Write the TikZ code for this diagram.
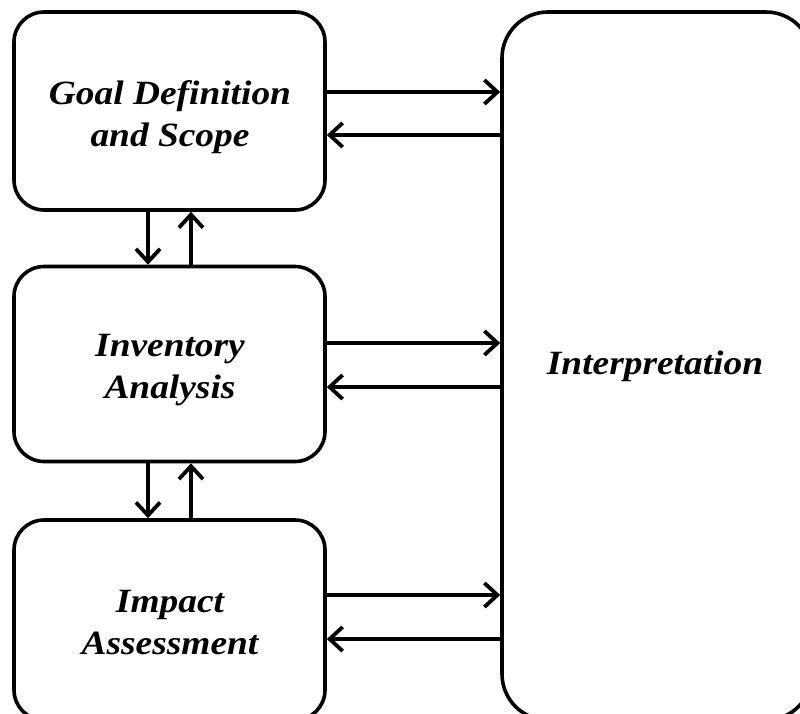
\documentclass[tikz,border=0pt]{standalone}
\usepackage{fontspec}
\setmainfont{Liberation Serif}[FakeStretch=1.1]
\usetikzlibrary{arrows.meta}
\begin{document}
\begin{tikzpicture}[x=1pt,y=-1pt,
  stage/.style={draw, line width=3.6pt, rounded corners=30pt, inner sep=0pt,
    minimum width=311pt},
  stagetext/.style={font=\fontsize{34}{42}\selectfont\bfseries\itshape,
    align=center, inner sep=0pt},
  flow/.style={line width=3.8pt, -{Straight Barb[length=13pt,width=24pt]}}]
\clip (0,0) rectangle (800,713);
\useasboundingbox (0,0) rectangle (800,713);

% left column of stages
\node[stage, minimum height=198pt] (goal) at (169.5,111) {};
\node[stage, minimum height=195pt] (inv) at (169.5,364) {};
\node[stage, minimum height=200pt] (imp) at (169.5,620) {};
% interpretation column
\node[draw, line width=3.6pt, rounded corners=46pt, inner sep=0pt,
  minimum width=310pt, minimum height=708pt] (interp) at (657,366) {};

% labels
\node[stagetext] (goaltxt) at (170,117) {Goal Definition\\and Scope};
\node[stagetext] (invtxt) at (170,370) {Inventory\\Analysis};
\node[stagetext] (imptxt) at (170,623) {Impact\\Assessment};
\node[stagetext] (interptxt) at (655,366) {Interpretation};

% exchanges with interpretation
\foreach \s/\a/\b in {goal/92/135, inv/343/387, imp/595/639}{
  \draw[flow] (\s.east |- 0,\a) -- (interp.west |- 0,\a);
  \draw[flow] (interp.west |- 0,\b) -- (\s.east |- 0,\b);
}

% exchanges between stages
\foreach \u/\l in {goal/inv, inv/imp}{
  \draw[flow] (\u.south -| 148,0) -- (\l.north -| 148,0);
  \draw[flow] (\l.north -| 191,0) -- (\u.south -| 191,0);
}
\end{tikzpicture}
\end{document}
